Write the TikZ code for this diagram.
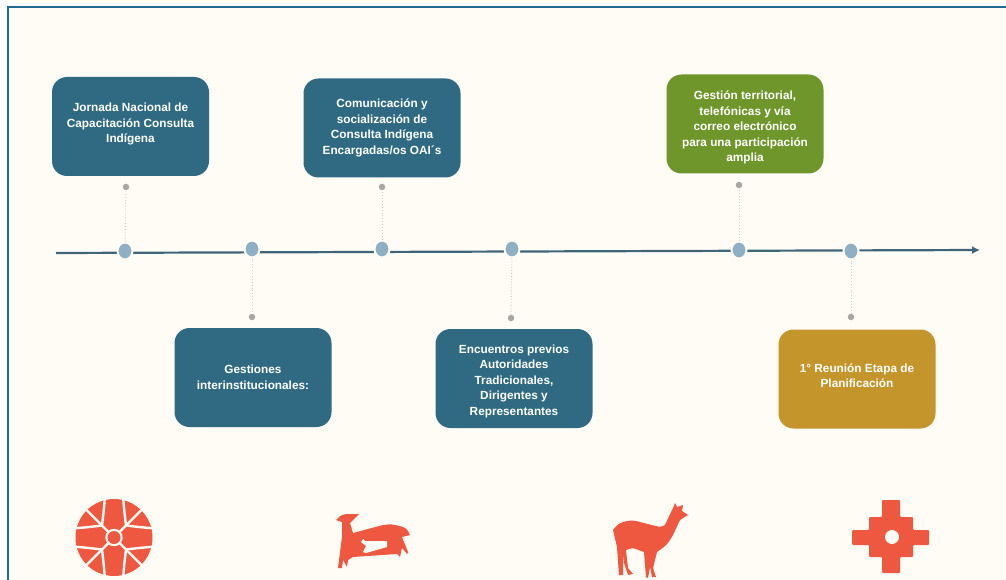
\documentclass[tikz,border=0pt]{standalone}
\usepackage{fontspec}
\setmainfont{Liberation Sans}
\definecolor{paper}{HTML}{FFFCF5}
\definecolor{frameblue}{HTML}{1F6A90}
\definecolor{tealbox}{HTML}{2F6A82}
\definecolor{olivebox}{HTML}{6F962B}
\definecolor{goldbox}{HTML}{C4952B}
\definecolor{linedark}{HTML}{3F6678}
\definecolor{dotblue}{HTML}{8FB0C4}
\definecolor{dotgrey}{HTML}{A9A5A3}
\definecolor{iconred}{HTML}{EE5740}
\usetikzlibrary{arrows.meta,shapes.geometric}
\begin{document}
\begin{tikzpicture}[x=1pt,y=-1pt]
        \tikzstyle{card} = [rounded corners=15pt, minimum width=157pt, minimum height=99pt, inner sep=0pt, align=center, text=white, font=\fontsize{11.8}{15.5}\selectfont\bfseries]
        \tikzstyle{stopdot} = [ellipse, fill=dotblue, draw=paper, line width=2pt, minimum width=15pt, minimum height=17pt, inner sep=0pt]
        \tikzstyle{pindot} = [circle, fill=dotgrey, minimum size=6.5pt, inner sep=0pt]
        \tikzstyle{link} = [dotgrey!60, dotted, line width=0.9pt]
        \tikzstyle{icon} = [fill=iconred, draw=none]

		\useasboundingbox (0,0) rectangle (1006,580);
		\fill[white] (0,0) rectangle (1006,580);
		\fill[paper] (7.5,6.5) rectangle (1006,580);
		\draw[frameblue, line width=1.6pt] (7.8,580) -- (7.8,6.8) -- (1006,6.8);

		\coordinate (start) at (56,253);
		\coordinate (end) at (980,250);
		\draw[linedark, line width=2.2pt, -{Latex[length=8pt,width=8pt]}] (start) -- (end);

		\node[stopdot] (s1) at (125,251) {};
		\node[stopdot] (s2) at (252,249) {};
		\node[stopdot] (s3) at (382,249) {};
		\node[stopdot] (s4) at (512,249) {};
		\node[stopdot] (s5) at (739,250) {};
		\node[stopdot] (s6) at (851,251) {};

		\node[pindot] (p1) at (126,187) {};
		\node[pindot] (p2) at (252,317) {};
		\node[pindot] (p3) at (382,187) {};
		\node[pindot] (p4) at (511,318) {};
		\node[pindot] (p5) at (739,185) {};
		\node[pindot] (p6) at (851,317) {};

		\draw[link] (s1) -- (p1);
		\draw[link] (s2) -- (p2);
		\draw[link] (s3) -- (p3);
		\draw[link] (s4) -- (p4);
		\draw[link] (s5) -- (p5);
		\draw[link] (s6) -- (p6);

		\node[card, fill=tealbox] (jornada) at (130.5,126.5) {Jornada Nacional de\\Capacitación Consulta\\Indígena\rule[-7pt]{0pt}{7pt}};
		\node[card, fill=tealbox] (gestiones) at (253,377.5) {Gestiones\\interinstitucionales:};
		\node[card, fill=tealbox] (comunicacion) at (382,128) {Comunicación y\\socialización de\\Consulta Indígena\\Encargadas/os OAI´s};
		\node[card, fill=tealbox] (encuentros) at (514,378.5) {\rule{0pt}{14pt}Encuentros previos\\Autoridades\\Tradicionales,\\Dirigentes y\\Representantes};
		\node[card, fill=olivebox] (territorial) at (745,124) {\rule{0pt}{16pt}Gestión territorial,\\telefónicas y vía\\correo electrónico\\para una participación\\amplia};
		\node[card, fill=goldbox] (reunion) at (857,379) {1° Reunión Etapa de\\Planificación\rule[-7pt]{0pt}{7pt}};

		\fill[icon] (114,537.5) circle (38.5);
		\foreach \a in {45,135,225,315} {
			\begin{scope}[shift={(114,537.5)}, rotate=\a]
				\draw[paper, line width=2.4pt] (8,0) -- (40,0);
				\draw[paper, line width=2.4pt] (17,0) .. controls (24,9) and (28,14) .. (35,22);
				\draw[paper, line width=2.4pt] (17,0) .. controls (24,-9) and (28,-14) .. (35,-22);
			\end{scope}
		}
		\fill[paper] (114,537.5) circle (8.7);
		\fill[icon] (114,537.5) circle (6.5);

		\fill[icon] (359,514) -- (347,514) .. controls (341,515) .. (336,520) -- (342,522) -- (342,537) -- (338,568) -- (342,568) -- (343,560) -- (347,567) -- (348,560) -- (353,557) -- (397,554) -- (400,557) -- (402,548) -- (407,554) -- (408,552) -- (402,537) -- (410,535) .. controls (407,529) .. (403,527) .. controls (392,524) .. (383,525) -- (353,533) -- (350,523) -- cycle;
		\fill[paper] (363,539) -- (365,541) -- (387,541) -- (387,547) -- (366,553) -- (363,552) -- (366,546) -- (361,542) -- cycle;

		\fill[icon] (613,530) .. controls (618,524) .. (623,522) .. controls (632,520) .. (640,522) -- (660,527) -- (665,525) -- (673,508) -- (675,503) -- (677,507) -- (683,505) -- (682,511) -- (688,515) -- (680,520) -- (673,535) .. controls (667,545) .. (657,552) -- (653,568) -- (656,577) -- (652,577) -- (650,567) -- (648,578) -- (646,577) -- (644,552) -- (633,548) -- (626,550) -- (628,568) -- (633,574) -- (628,575) -- (624,563) -- (623,551) -- (623,575) -- (619,575) -- (617,547) -- cycle;

		\fill[icon, rounded corners=1pt] (882,500) -- (900,500) -- (900,517) -- (913,517) -- (913,530) -- (929,530) -- (929,545) -- (913,545) -- (913,557) -- (900,557) -- (900,573) -- (882,573) -- (882,557) -- (869,557) -- (869,545) -- (852,545) -- (852,530) -- (869,530) -- (869,517) -- (882,517) -- cycle;
		\fill[paper] (892,537) circle (7);

    \end{tikzpicture}
\end{document}
